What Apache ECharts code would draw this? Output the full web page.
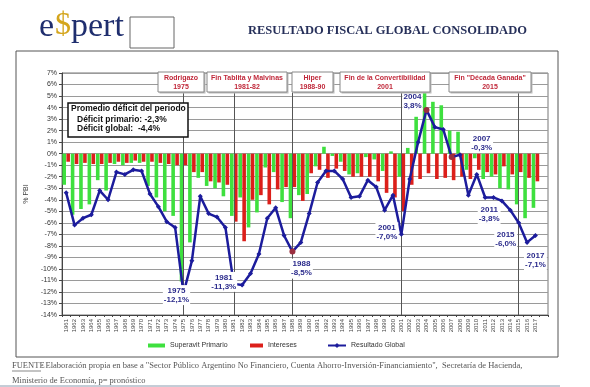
<!DOCTYPE html>
<html><head><meta charset="utf-8">
<script src="https://cdn.jsdelivr.net/npm/echarts@6/dist/echarts.min.js"></script>
<style>html,body{margin:0;padding:0;background:#fff;}#c{width:590px;height:387px;}</style>
</head><body><div id="c"></div>
<script>
const years = ['1961','1962','1963','1964','1965','1966','1967','1968','1969','1970','1971','1972','1973','1974','1975','1976','1977','1978','1979','1980','1981','1982','1983','1984','1985','1986','1987','1988','1989','1990','1991','1992','1993','1994','1995','1996','1997','1998','1999','2000','2001','2002','2003','2004','2005','2006','2007','2008','2009','2010','2011','2012','2013','2014','2015','2016','2017',''];
const superavitPrimario = [-2.7,-5.3,-4.8,-4.4,-2.3,-3.2,-0.9,-1.0,-0.8,-0.8,-2.8,-3.8,-5.0,-5.4,-11.1,-7.7,-2.1,-2.8,-3.0,-3.7,-5.4,-3.8,-6.4,-5.1,-1.2,-1.6,-4.2,-5.6,-3.6,-3.5,-1.1,0.6,-0.2,-0.7,-1.8,-1.7,-0.3,-0.5,-1.5,0.2,-2.0,0.5,3.2,5.5,4.5,4.2,2.0,1.9,-1.4,-0.4,-2.2,-2.0,-3.0,-3.1,-4.4,-5.6,-4.7,null];
const intereses = [-0.7,-0.9,-0.8,-0.9,-0.9,-0.8,-0.7,-0.8,-0.6,-0.7,-0.7,-0.8,-0.9,-1.0,-1.0,-1.6,-1.6,-2.4,-2.5,-2.7,-5.9,-7.6,-4.0,-3.6,-4.4,-3.1,-2.9,-2.9,-4.1,-1.7,-1.4,-2.1,-1.3,-1.5,-2.0,-2.0,-2.0,-2.4,-3.4,-3.8,-5.0,-2.7,-2.2,-1.7,-2.2,-2.1,-2.3,-2.0,-2.2,-1.4,-1.6,-1.8,-1.1,-1.8,-1.6,-2.1,-2.4,null];
const resultadoGlobal = [-3.4,-6.2,-5.6,-5.3,-3.2,-4.0,-1.6,-1.8,-1.4,-1.5,-3.5,-4.6,-5.9,-6.4,-12.1,-9.3,-3.7,-5.2,-5.5,-6.4,-11.3,-11.4,-10.4,-8.7,-5.6,-4.7,-7.1,-8.5,-7.7,-5.2,-2.5,-1.5,-1.5,-2.2,-3.8,-3.7,-2.3,-2.9,-4.9,-3.6,-7.0,-2.2,1.0,3.8,2.3,2.1,-0.3,-0.1,-3.6,-1.8,-3.8,-3.8,-4.1,-4.9,-6.0,-7.7,-7.1,null];
const yTicks = {min:-14, max:7, step:1};
const highlighted = {
  '1975': {pos:'left', off:[0,2], mark:true},
  '1981': {pos:'left', off:[-3,-2], mark:true},
  '1988': {pos:'bottom', off:[9,0], mark:true},
  '2001': {pos:'left', off:[-8,-2], mark:false},
  '2004': {pos:'top', off:[-14,8], mark:true},
  '2007': {pos:'top', off:[30,3], mark:true},
  '2011': {pos:'bottom', off:[4,0], mark:false},
  '2015': {pos:'bottom', off:[-13,0], mark:false},
  '2017': {pos:'bottom', off:[0,8], mark:false}
};
const events = [
  {year:'1975', l1:'Rodrigazo', l2:'1975', x:158, w:46},
  {year:'1981', l1:'Fin Tablita y Malvinas', l2:'1981-82', x:207, w:80},
  {year:'1988', l1:'Hiper', l2:'1988-90', x:292, w:41},
  {year:'2001', l1:'Fin de la Convertibilidad', l2:'2001', x:340, w:90},
  {year:'2015', l1:'Fin "Década Ganada"', l2:'2015', x:449, w:82}
];
const fmt = v => (v<0?'-':'') + Math.abs(v).toFixed(1).replace('.', ',') + '%';

const lineData = resultadoGlobal.map((v,i)=>{
  const y = years[i];
  const h = highlighted[y];
  if (!h || v===null) return v;
  const it = {value:v, label:{show:true, position:h.pos, offset:h.off, distance:4,
    formatter: y+'\n'+fmt(v), color:'#2b2b8c', fontWeight:'bold', fontSize:8, lineHeight:9,
    fontFamily:'Liberation Sans', backgroundColor:'#fff', padding:[1,1], align:'center'}};
  if (h.mark) { it.symbol='circle'; it.symbolSize=6; it.itemStyle={color:'#9b2f3f'}; }
  return it;
});

const chart = echarts.init(document.getElementById('c'), null, {renderer:'canvas'});
const graphics = [
  {type:'text', left:39, top:10, style:{text:'e', font:'34px "Liberation Serif"', fill:'#1f2e6e'}},
  {type:'text', left:55, top:10, style:{text:'$', font:'32px "Liberation Serif"', fill:'#d4a51c'}},
  {type:'text', left:71, top:10, style:{text:'pert', font:'34px "Liberation Serif"', fill:'#1f2e6e'}},
  {type:'rect', shape:{x:130, y:17, width:44, height:31}, style:{fill:'#fff', stroke:'#666', lineWidth:1}},
  {type:'text', left:248, top:24, style:{text:'RESULTADO FISCAL GLOBAL CONSOLIDADO', font:'bold 12.5px "Liberation Serif"', fill:'#27305a'}},
  {type:'rect', shape:{x:16, y:51, width:542, height:306}, style:{fill:'none', stroke:'#555', lineWidth:1}, z:-1},
  {type:'rect', shape:{x:68, y:103, width:120, height:34}, style:{fill:'#fff', stroke:'#111', lineWidth:1.5}, z:50},
  {type:'text', x:71, y:104, z:51, style:{text:'Promedio déficit del periodo', font:'bold 8.5px "Liberation Sans"', fill:'#111'}},
  {type:'text', x:77, y:115, z:51, style:{text:'Déficit primario: -2,3%', font:'bold 8.5px "Liberation Sans"', fill:'#111'}},
  {type:'text', x:77, y:124.5, z:51, style:{text:'Déficit global:  -4,4%', font:'bold 8.5px "Liberation Sans"', fill:'#111'}},
  {type:'text', x:12, y:361, style:{text:'FUENTE', font:'8.5px "Liberation Serif"', fill:'#555'}},
  {type:'line', shape:{x1:12, y1:371, x2:41, y2:371}, style:{stroke:'#555', lineWidth:0.7}},
  {type:'text', x:41, y:361, style:{text:': Elaboración propia en base a "Sector Público Argentino No Financiero, Cuenta Ahorro-Inversión-Financiamiento",  Secretaría de Hacienda,', font:'8.5px "Liberation Serif"', fill:'#555'}},
  {type:'text', x:12, y:376, style:{text:'Ministerio de Economía, p= pronóstico', font:'8.5px "Liberation Serif"', fill:'#555'}},
  {type:'line', shape:{x1:0, y1:386, x2:560, y2:386}, style:{stroke:'#8a9aae', lineWidth:1}}
];
events.forEach(e=>{
  graphics.push({type:'rect', shape:{x:e.x+1.5, y:73.5, width:e.w, height:20}, style:{fill:'#bbb'}, z:48});
  graphics.push({type:'rect', shape:{x:e.x, y:72, width:e.w, height:20}, style:{fill:'#fff', stroke:'#888', lineWidth:1}, z:49});
  graphics.push({type:'text', x:e.x+e.w/2, y:74, z:50, style:{text:e.l1+'\n'+e.l2, font:'bold 7px "Liberation Sans"', fill:'#c0283a', align:'center', lineHeight:8.5}});
});

chart.setOption({
  animation:false,
  backgroundColor:'#fff',
  grid:{left:62, right:42, top:73, bottom:72, show:true, borderColor:'#777', borderWidth:1},
  legend:[
    {data:['Superavit Primario'], left:143, top:337, icon:'rect', itemWidth:17, itemHeight:4, textStyle:{fontSize:7, color:'#333', fontFamily:'Liberation Sans'}},
    {data:['Intereses'], left:245, top:337, icon:'rect', itemWidth:13, itemHeight:4, textStyle:{fontSize:7, color:'#333', fontFamily:'Liberation Sans'}},
    {data:['Resultado Global'], left:322, top:337, itemWidth:18, itemHeight:6, textStyle:{fontSize:7, color:'#333', fontFamily:'Liberation Sans'}}
  ],
  xAxis:{type:'category', data:years, boundaryGap:true,
    axisLine:{onZero:false, lineStyle:{color:'#444'}},
    axisTick:{show:true, alignWithLabel:false, length:2, lineStyle:{color:'#444'}},
    axisLabel:{rotate:90, interval:0, fontSize:6, color:'#444', fontFamily:'Liberation Sans', margin:4},
    splitLine:{show:false}},
  yAxis:{type:'value', min:yTicks.min, max:yTicks.max, interval:yTicks.step,
    name:'% PBI', nameLocation:'middle', nameGap:27, nameRotate:90,
    nameTextStyle:{fontSize:7, color:'#444', fontFamily:'Liberation Sans'},
    axisLine:{show:true, lineStyle:{color:'#444'}},
    axisTick:{show:true, length:3, lineStyle:{color:'#444'}},
    axisLabel:{formatter:'{value}%', fontSize:7, color:'#333', fontFamily:'Liberation Sans', margin:5},
    splitLine:{show:true, lineStyle:{color:'#9a9a9a', width:1}}},
  series:[
    {name:'Superavit Primario', type:'bar', data:superavitPrimario, barWidth:3.6, barGap:'10%', itemStyle:{color:'#3ee03e'}},
    {name:'Intereses', type:'bar', data:intereses, barWidth:3.6, itemStyle:{color:'#dc1f1a'}},
    {name:'Resultado Global', type:'line', data:lineData, z:10, symbol:'diamond', symbolSize:5,
      lineStyle:{color:'#1c1c9c', width:2.5}, itemStyle:{color:'#1c1c9c'},
      markLine:{silent:true, symbol:'none', label:{show:false}, lineStyle:{color:'#555', width:1, type:'solid'},
        data: events.map(e=>[{coord:[e.year, 5.3]},{coord:[e.year, yTicks.min]}])}}
  ],
  graphic:graphics
});
</script></body></html>
